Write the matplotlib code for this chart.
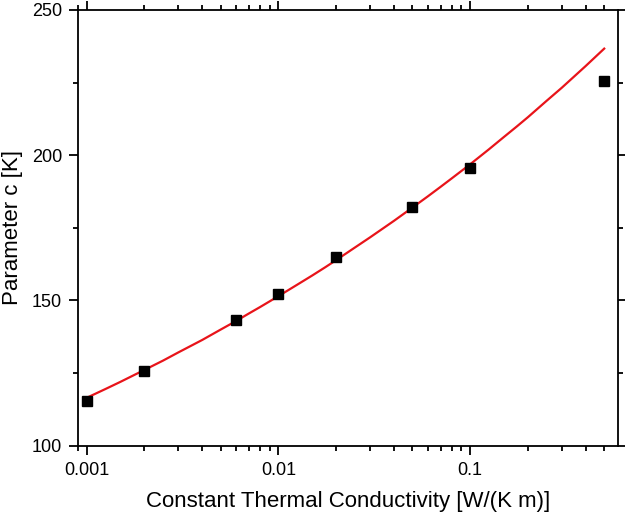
import matplotlib
matplotlib.use("Agg")
import matplotlib.pyplot as plt
from matplotlib.ticker import FixedLocator, LogLocator, NullFormatter, MultipleLocator

plt.rcParams['font.family'] = ['Liberation Sans', 'DejaVu Sans']

# measured data
conductivity = [0.001, 0.002, 0.006, 0.01, 0.02, 0.05, 0.1, 0.5]
param_c = [115.5, 125.7, 143.3, 152.2, 165.0, 182.2, 195.6, 225.4]

# fitted curve
fit_x = [0.001, 0.00125, 0.0015, 0.00175, 0.002, 0.0025, 0.003, 0.004, 0.005,
         0.006, 0.007, 0.008, 0.01, 0.0125, 0.015, 0.0175, 0.02, 0.025, 0.03,
         0.04, 0.05, 0.06, 0.07, 0.08, 0.1, 0.125, 0.15, 0.175, 0.2, 0.25,
         0.3, 0.4, 0.5]
fit_y = [116.5, 119.5, 122.0, 124.2, 126.1, 129.3, 132.1, 136.4, 140.0,
         142.9, 145.5, 147.7, 151.5, 155.4, 158.6, 161.4, 163.9, 168.2, 171.7,
         177.4, 182.0, 185.8, 189.1, 192.0, 196.9, 202.0, 206.3, 209.9, 213.1,
         218.7, 223.2, 230.7, 236.7]

x_ticks = [0.001, 0.01, 0.1]
x_tick_labels = ["0.001", "0.01", "0.1"]
y_ticks = [100, 150, 200, 250]

fig = plt.figure(figsize=(6.25, 5.23), dpi=100)
ax = fig.add_axes([0.1248, 0.1478, 0.864, 0.8331])

ax.plot(fit_x, fit_y, color='#e8141a', lw=1.6, zorder=2)
ax.plot(conductivity, param_c, 's', color='black', ms=7, zorder=3)

ax.set_xscale('log')
ax.set_xlim(0.0009, 0.59)
ax.set_ylim(100, 250)

ax.xaxis.set_major_locator(FixedLocator(x_ticks))
ax.set_xticklabels(x_tick_labels)
ax.xaxis.set_minor_locator(LogLocator(base=10, subs=range(2, 10)))
ax.xaxis.set_minor_formatter(NullFormatter())
ax.yaxis.set_major_locator(FixedLocator(y_ticks))
ax.yaxis.set_minor_locator(MultipleLocator(25))

for s in ax.spines.values():
    s.set_linewidth(1.3)

ax.tick_params(which='both', direction='out', top=True, right=True,
               labeltop=False, labelright=False, width=1.3, labelsize=13)
ax.tick_params(which='major', length=6.5, pad=5)
ax.tick_params(which='minor', length=3.5)

ax.set_xlabel("Constant Thermal Conductivity [W/(K m)]", fontsize=16, labelpad=9)
ax.set_ylabel("Parameter c [K]", fontsize=16, labelpad=6)

fig.savefig("out.png", dpi=100)
